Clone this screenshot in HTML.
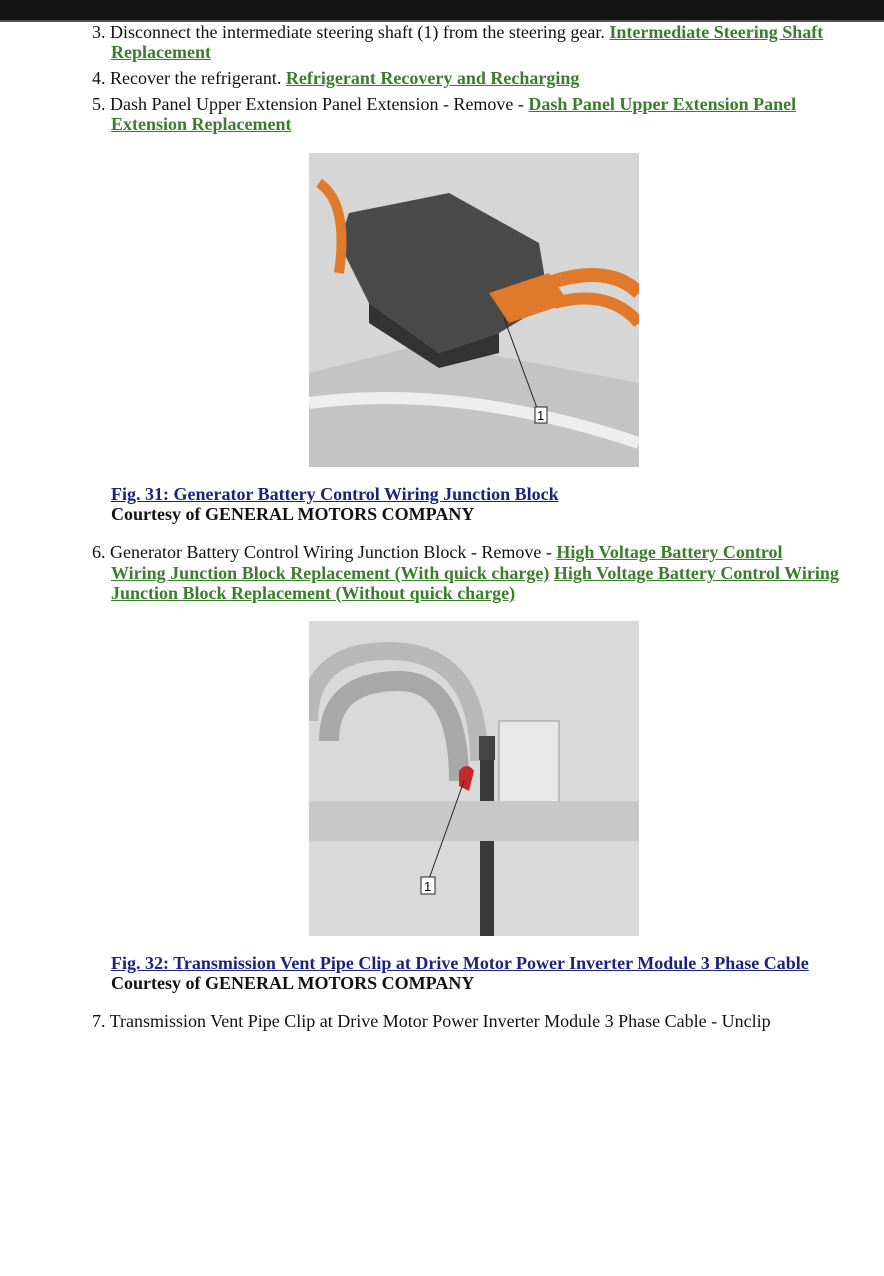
<!DOCTYPE html>
<html><head><meta charset="utf-8"><style>
body{margin:0;width:884px;height:1276px;background:#fff;position:relative;overflow:hidden;font-family:"Liberation Serif",serif;font-size:18px;color:#111}
.bar{position:absolute;left:0;top:0;width:884px;height:20px;background:#141414;border-bottom:2px solid #555}
.t{position:absolute;white-space:nowrap;line-height:20px}
.g{color:#3a7d2c;font-weight:bold;text-decoration:underline}
.b{color:#1a237e;font-weight:bold;text-decoration:underline}
.k{font-weight:bold}
.img{position:absolute;left:309px;width:330px;overflow:hidden;background:#d9d9d9}
</style></head><body>
<div class="bar"></div>
<div class="t" style="left:92px;top:22px">3. Disconnect the intermediate steering shaft (1) from the steering gear. <span class="g">Intermediate Steering Shaft</span></div>
<div class="t" style="left:111px;top:42px"><span class="g">Replacement</span></div>
<div class="t" style="left:92px;top:68px">4. Recover the refrigerant. <span class="g">Refrigerant Recovery and Recharging</span></div>
<div class="t" style="left:92px;top:94px">5. Dash Panel Upper Extension Panel Extension - Remove - <span class="g">Dash Panel Upper Extension Panel</span></div>
<div class="t" style="left:111px;top:114px"><span class="g">Extension Replacement</span></div>

<div class="img" style="top:153px;height:314px">
<svg width="330" height="314">
<rect width="330" height="314" fill="#d6d6d6"/>
<path d="M0 220 L120 190 L330 230 L330 314 L0 314Z" fill="#c4c4c4"/>
<path d="M140 40 L40 60 L30 90 L60 150 L130 200 L190 180 L240 150 L230 90Z" fill="#4a4a4a"/>
<path d="M60 150 L130 200 L190 180 L190 200 L130 215 L60 170Z" fill="#333"/>
<path d="M180 140 L240 120 L260 150 L200 170Z" fill="#e07a2a"/>
<path d="M240 130 Q300 110 330 140" stroke="#e07a2a" stroke-width="14" fill="none"/>
<path d="M245 150 Q300 135 330 170" stroke="#e07a2a" stroke-width="12" fill="none"/>
<path d="M10 30 Q40 50 30 120" stroke="#e07a2a" stroke-width="10" fill="none"/>
<path d="M0 250 Q150 230 330 290" stroke="#eee" stroke-width="12" fill="none"/>
<line x1="195" y1="165" x2="228" y2="255" stroke="#222"/>
<rect x="226" y="254" width="12" height="16" fill="#fff" stroke="#222"/>
<text x="228" y="267" font-size="13" font-family="Liberation Sans">1</text>
</svg></div>

<div class="t" style="left:111px;top:484px"><span class="b">Fig. 31: Generator Battery Control Wiring Junction Block</span></div>
<div class="t k" style="left:111px;top:504px">Courtesy of GENERAL MOTORS COMPANY</div>

<div class="t" style="left:92px;top:542px">6. Generator Battery Control Wiring Junction Block - Remove - <span class="g">High Voltage Battery Control</span></div>
<div class="t" style="left:111px;top:563px"><span class="g">Wiring Junction Block Replacement (With quick charge)</span> <span class="g">High Voltage Battery Control Wiring</span></div>
<div class="t" style="left:111px;top:583px"><span class="g">Junction Block Replacement (Without quick charge)</span></div>

<div class="img" style="top:621px;height:315px">
<svg width="330" height="315">
<rect width="330" height="315" fill="#d9d9d9"/>
<path d="M20 120 Q20 60 90 60 Q150 60 150 160" stroke="#a8a8a8" stroke-width="20" fill="none"/>
<path d="M0 100 Q0 30 80 30 Q170 30 170 140" stroke="#b8b8b8" stroke-width="18" fill="none"/>
<rect x="190" y="100" width="60" height="90" fill="#e8e8e8" stroke="#999"/>
<path d="M178 125 L178 315" stroke="#3a3a3a" stroke-width="14"/>
<rect x="170" y="115" width="16" height="24" fill="#444"/>
<path d="M150 150 Q158 140 165 150 L160 170 L150 165Z" fill="#c62828"/>
<rect x="0" y="180" width="330" height="40" fill="#c8c8c8"/>
<line x1="155" y1="160" x2="120" y2="258" stroke="#222"/>
<rect x="112" y="256" width="14" height="17" fill="#fff" stroke="#222"/>
<text x="115" y="270" font-size="13" font-family="Liberation Sans">1</text>
</svg></div>

<div class="t" style="left:111px;top:953px"><span class="b">Fig. 32: Transmission Vent Pipe Clip at Drive Motor Power Inverter Module 3 Phase Cable</span></div>
<div class="t k" style="left:111px;top:973px">Courtesy of GENERAL MOTORS COMPANY</div>
<div class="t" style="left:92px;top:1011px">7. Transmission Vent Pipe Clip at Drive Motor Power Inverter Module 3 Phase Cable - Unclip</div>
</body></html>
